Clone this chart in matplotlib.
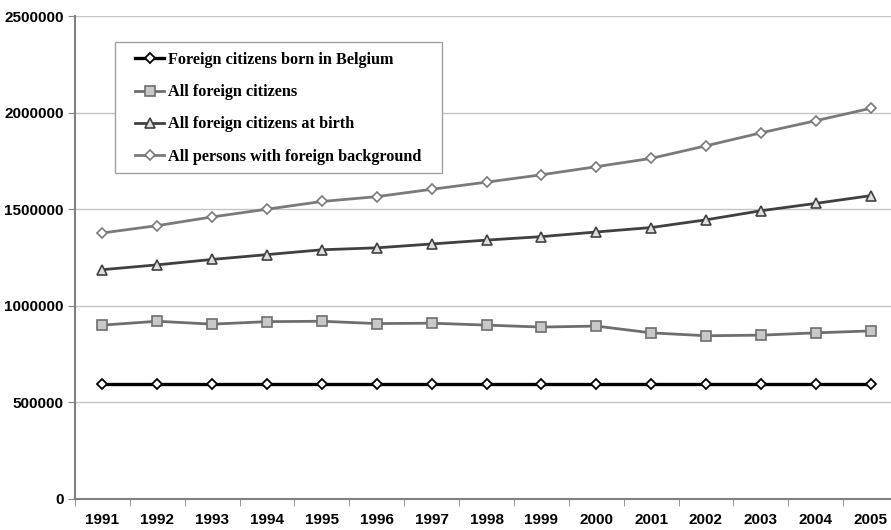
import numpy as np
import matplotlib.pyplot as plt
from matplotlib.patches import Rectangle

years = ['1991', '1992', '1993', '1994', '1995', '1996', '1997', '1998',
         '1999', '2000', '2001', '2002', '2003', '2004', '2005']

born_in_belgium = [595000] * 15
all_foreign = [900000, 920000, 905000, 918000, 920000, 908000, 910000, 900000,
               890000, 895000, 860000, 845000, 848000, 860000, 870000]
foreign_at_birth = [1187000, 1212000, 1240000, 1265000, 1290000, 1300000, 1320000, 1340000,
                    1358000, 1382000, 1405000, 1445000, 1492000, 1530000, 1570000]
foreign_background = [1377000, 1415000, 1460000, 1500000, 1540000, 1565000, 1603000, 1640000,
                      1678000, 1720000, 1763000, 1828000, 1895000, 1958000, 2022000]

labels = ['Foreign citizens born in Belgium', 'All foreign citizens',
          'All foreign citizens at birth', 'All persons with foreign background']

W, H = 891, 530
fig = plt.figure(figsize=(W / 100, H / 100), dpi=100)
ax = fig.add_axes([75 / W, 31 / H, 823 / W, 483 / H])

x = np.arange(len(years))
ax.plot(x, born_in_belgium, color='black', lw=2.4, marker='D', ms=5,
        mfc='white', mec='black', mew=1.3, label=labels[0], zorder=5)
ax.plot(x, all_foreign, color='#6e6e6e', lw=2.0, marker='s', ms=7,
        mfc='#c8c8c8', mec='#6e6e6e', mew=1.2, label=labels[1], zorder=4)
ax.plot(x, foreign_at_birth, color='#404040', lw=2.0, marker='^', ms=7.5,
        mfc='#dedede', mec='#404040', mew=1.2, label=labels[2], zorder=4)
ax.plot(x, foreign_background, color='#7a7a7a', lw=2.0, marker='D', ms=5.5,
        mfc='white', mec='#7a7a7a', mew=1.2, label=labels[3], zorder=4)

ax.set_xlim(-0.5, len(years) - 0.5)
ax.set_ylim(0, 2500000)
ax.set_yticks(np.arange(0, 2500001, 500000))
ax.set_yticklabels([str(v) for v in range(0, 2500001, 500000)])
ax.set_xticks(x)
ax.set_xticklabels(years)
ax.set_xticks(np.arange(-0.5, len(years), 1), minor=True)
ax.tick_params(axis='x', which='major', length=0, pad=10)
ax.tick_params(axis='x', which='minor', length=5, color='#888888', direction='out')
ax.tick_params(axis='y', length=5, color='#888888', pad=3)
for lab in ax.get_xticklabels() + ax.get_yticklabels():
    lab.set_family('Liberation Sans')
    lab.set_fontweight('bold')
    lab.set_fontsize(11)

ax.grid(axis='y', color='#c4c4c4', lw=1)
ax.set_axisbelow(True)
for side in ['top', 'right']:
    ax.spines[side].set_visible(False)
for side in ['left', 'bottom']:
    ax.spines[side].set_color('#808080')
    ax.spines[side].set_linewidth(1.5)

# legend box drawn separately so its padding can differ from the entries
box = Rectangle((115 / W, 1 - 173 / H), 327 / W, 131 / H, transform=fig.transFigure,
                facecolor='white', edgecolor='#a0a0a0', lw=1, zorder=3, clip_on=False)
ax.add_patch(box)
leg = ax.legend(loc='upper left', bbox_to_anchor=(135 / W, 1 - 52 / H),
                bbox_transform=fig.transFigure, frameon=False,
                handlelength=1.8, handletextpad=0.2, labelspacing=1.0,
                borderpad=0, borderaxespad=0,
                prop={'family': 'Liberation Serif', 'weight': 'bold', 'size': 11.7})
leg.set_zorder(6)

fig.savefig('out.png', dpi=100)
